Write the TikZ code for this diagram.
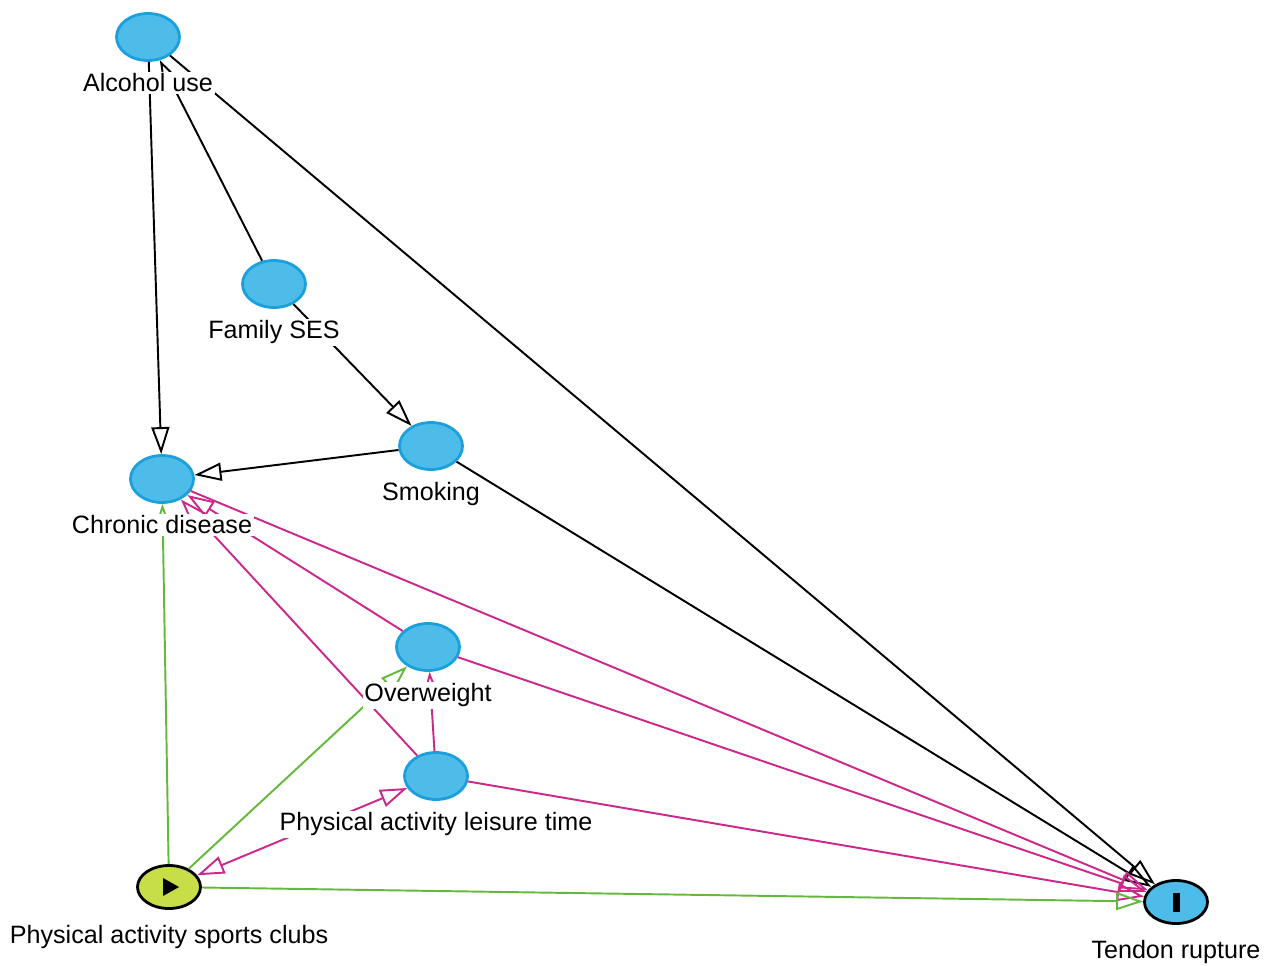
\documentclass[tikz,border=0pt]{standalone}
\usepackage{fontspec}
\setmainfont{Liberation Sans}
\usetikzlibrary{arrows.meta}
\usetikzlibrary{shapes.geometric}
\usetikzlibrary{positioning}

\definecolor{varfill}{RGB}{78,188,233}
\definecolor{varline}{RGB}{28,160,220}
\definecolor{expfill}{RGB}{200,222,72}
\definecolor{biaspath}{RGB}{204,40,140}
\definecolor{causalpath}{RGB}{100,184,60}

\tikzset{
  >={Triangle[open,length=0.54cm,width=0.36cm]},
  var/.style={ellipse,draw=varline,fill=varfill,line width=1.6pt,
    minimum width=1.26cm,minimum height=0.94cm,inner sep=0pt},
  exposure/.style={var,draw=black,fill=expfill,minimum height=0.86cm},
  outcome/.style={var,draw=black,minimum height=0.86cm},
  lbl/.style={fill=white,inner sep=1pt,font=\fontsize{14.3}{16}\selectfont},
}

\begin{document}
\begin{tikzpicture}[x=0.02cm,y=-0.02cm]

  \useasboundingbox (0,0) rectangle (1269,965);

  % variables
  \node [var]      (alcohol)    at (148,37)   {};
  \node [var]      (ses)        at (274,284)  {};
  \node [var]      (smoking)    at (431,446)  {};
  \node [var]      (chronic)    at (162,479)  {};
  \node [var]      (overweight) at (428,647)  {};
  \node [var]      (leisure)    at (436,776)  {};
  \node [exposure] (clubs)      at (169,887)  {};
  \node [outcome]  (tendon)     at (1176,902) {};

  \fill (clubs.center) ++(-6,-9) -- ++(16,9) -- ++(-16,9) -- cycle;
  \fill (tendon.center) ++(-3.5,-9.5) rectangle ++(7,19);

  % edges
  \path [draw,line width=1.1pt,->]
    (alcohol) edge (chronic)
    (ses)     edge (alcohol)
    (alcohol) edge (tendon)
    (ses)     edge (smoking)
    (smoking) edge (chronic)
    (smoking) edge (tendon);

  \path [draw,line width=1.1pt,->,biaspath]
    (chronic)    edge (tendon)
    (overweight) edge (chronic)
    (overweight) edge (tendon)
    (leisure)    edge (chronic)
    (leisure)    edge (overweight)
    (leisure)    edge (tendon)
    (clubs)      edge [<->] (leisure);

  \path [draw,line width=1.1pt,->,causalpath]
    (clubs) edge (chronic)
    (clubs) edge (overweight)
    (clubs) edge (tendon);

  % labels
  \node [lbl,below=0.19cm of alcohol]    (alcohol_l)    {Alcohol use};
  \node [lbl,below=0.19cm of ses]        (ses_l)        {Family SES};
  \node [lbl,below=0.19cm of smoking]    (smoking_l)    {Smoking};
  \node [lbl,below=0.19cm of chronic]    (chronic_l)    {Chronic disease};
  \node [lbl,below=0.19cm of overweight] (overweight_l) {Overweight};
  \node [lbl,below=0.19cm of leisure]    (leisure_l)    {Physical activity leisure time};
  \node [lbl,below=0.26cm of clubs]      (clubs_l)      {Physical activity sports clubs};
  \node [lbl,below=0.26cm of tendon]     (tendon_l)     {Tendon rupture};

\end{tikzpicture}
\end{document}
